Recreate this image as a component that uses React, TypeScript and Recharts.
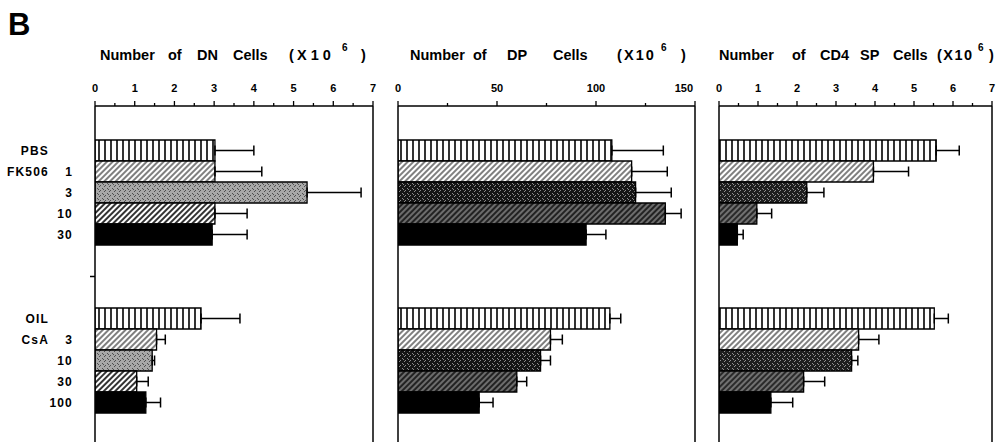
import React from 'react';
import { BarChart, Bar, XAxis, YAxis, Cell, ErrorBar, ReferenceLine } from 'recharts';

// rows, top to bottom; gap rows separate the two treatment groups
const rowIds = ['PBS', 'FK506-1', 'FK506-3', 'FK506-10', 'FK506-30', 'gap-1', 'gap-2', 'gap-3', 'OIL', 'CsA-3', 'CsA-10', 'CsA-30', 'CsA-100'];
const rowNames = ['PBS', 'FK506', '', '', '', '', '', '', 'OIL', 'CsA', '', '', ''];
const rowDoses = ['', '1', '3', '10', '30', '', '', '', '', '3', '10', '30', '100'];

// mean and top of error bar
const dnMean = [3.02, 3.02, 5.34, 3.02, 2.95, null, null, null, 2.67, 1.55, 1.44, 1.05, 1.28];
const dnUpper = [4.0, 4.2, 6.7, 3.83, 3.83, null, null, null, 3.65, 1.77, 1.5, 1.34, 1.65];
const dpMean = [108, 118, 120, 135, 95, null, null, null, 107, 77, 72, 60, 41];
const dpUpper = [134, 136, 138, 143, 105, null, null, null, 112.5, 83, 77, 65, 48];
const cd4Mean = [5.57, 3.96, 2.25, 0.97, 0.47, null, null, null, 5.52, 3.58, 3.4, 2.17, 1.33];
const cd4Upper = [6.16, 4.86, 2.69, 1.35, 0.62, null, null, null, 5.88, 4.1, 3.56, 2.71, 1.89];

const cellTicks = [0, 0.5, 1, 1.5, 2, 2.5, 3, 3.5, 4, 4.5, 5, 5.5, 6, 6.5, 7];
const cellLabels = [0, 1, 2, 3, 4, 5, 6, 7];
const dpTicks = [0, 25, 50, 75, 100, 125, 150];
const dpLabels = [0, 50, 100, 150];

// title words: [text, left, superscript?, letter spacing?]
type Word = [string, number, boolean?, number?];
const dnTitle: Word[] = [
  ['Number', 100], ['of', 168], ['DN', 197], ['Cells', 233], ['(', 289], ['X10', 297, false, 4], ['6', 342, true], [')', 361],
];
const dpTitle: Word[] = [
  ['Number', 410], ['of', 473], ['DP', 507], ['Cells', 553], ['(', 617], ['X10', 624, false, 2], ['6', 661, true], [')', 681],
];
const cd4Title: Word[] = [
  ['Number', 719], ['of', 792], ['CD4', 820], ['SP', 860], ['Cells', 893], ['(X10', 937, false, 1.5], ['6', 978, true], [')', 989],
];

const patternOrder = ['vert', 'hatch', 'stip', 'dhatch', 'solid'];
const FONT = '"Liberation Sans", Arial, Helvetica, sans-serif';

let k = 0;
const rowSlot = rowIds.map((id) => (id.startsWith('gap') ? -1 : k++ % 5));

function Patterns() {
  const sets = [
    { id: 'dn', stipBase: '#a8a8a8', stipDot: '#505050', dhBase: '#fff', dhLine: '#000', dhW: 1.6 },
    { id: 'dp', stipBase: '#151515', stipDot: '#8a8a8a', dhBase: '#222', dhLine: '#ddd', dhW: 0.8 },
    { id: 'cd4', stipBase: '#1e1e1e', stipDot: '#909090', dhBase: '#2a2a2a', dhLine: '#ddd', dhW: 0.8 },
  ];
  return (
    <svg width={0} height={0} style={{ position: 'absolute' }}>
      <defs>
        {sets.map((s) => (
          <React.Fragment key={s.id}>
            <pattern id={`${s.id}-vert`} patternUnits="userSpaceOnUse" width="6" height="6">
              <rect width="6" height="6" fill="#fff" />
              <line x1="3" y1="0" x2="3" y2="6" stroke="#000" strokeWidth="1.6" />
            </pattern>
            <pattern id={`${s.id}-hatch`} patternUnits="userSpaceOnUse" width="4" height="4" patternTransform="rotate(45)">
              <rect width="4" height="4" fill="#fff" />
              <line x1="2" y1="0" x2="2" y2="4" stroke="#000" strokeWidth="1" />
            </pattern>
            <pattern id={`${s.id}-stip`} patternUnits="userSpaceOnUse" width="5" height="5">
              <rect width="5" height="5" fill={s.stipBase} />
              <rect x="0" y="0" width="1" height="1" fill={s.stipDot} />
              <rect x="2" y="3" width="1" height="1" fill={s.stipDot} />
              <rect x="4" y="1" width="1" height="1" fill={s.stipDot} />
              <rect x="3" y="4" width="1" height="1" fill={s.stipDot} />
            </pattern>
            <pattern id={`${s.id}-dhatch`} patternUnits="userSpaceOnUse" width="4" height="4" patternTransform="rotate(45)">
              <rect width="4" height="4" fill={s.dhBase} />
              <line x1="2" y1="0" x2="2" y2="4" stroke={s.dhLine} strokeWidth={s.dhW} />
            </pattern>
          </React.Fragment>
        ))}
      </defs>
    </svg>
  );
}

function XTick(props: any) {
  const { x, y, payload, labels, max, lastEnd } = props;
  const v = payload.value;
  const major = labels.includes(v);
  const end = lastEnd && v === max;
  return (
    <g>
      <line x1={x} x2={x} y1={y} y2={y - (major ? 5 : 3)} stroke="#000" strokeWidth={1.3} />
      {major && (
        <text x={end ? x - 2 : x} y={y - 14} textAnchor={end ? 'end' : 'middle'} fontSize={11} fontWeight="bold" fontFamily={FONT} fill="#000">
          {v}
        </text>
      )}
    </g>
  );
}

function RowTick(props: any) {
  const { x, y, payload } = props;
  const i = rowIds.indexOf(payload.value);
  if (payload.value === 'gap-2') {
    return <line x1={x - 5} x2={x} y1={y} y2={y} stroke="#000" strokeWidth={1.5} />;
  }
  const style = { fontSize: 12, fontWeight: 'bold' as const, fontFamily: FONT, letterSpacing: 1.2 };
  return (
    <g>
      <text x={x - 46} y={y} dy="0.36em" textAnchor="end" fill="#000" style={style}>{rowNames[i]}</text>
      <text x={x - 22} y={y} dy="0.36em" textAnchor="end" fill="#000" style={style}>{rowDoses[i]}</text>
    </g>
  );
}

interface PanelProps {
  prefix: string;
  left: number;
  width: number;
  mLeft: number;
  mRight: number;
  yWidth: number;
  max: number;
  ticks: number[];
  labels: number[];
  mean: (number | null)[];
  upper: (number | null)[];
  showRows?: boolean;
  lastEnd?: boolean;
}

function Panel({ prefix, left, width, mLeft, mRight, yWidth, max, ticks, labels, mean, upper, showRows, lastEnd }: PanelProps) {
  const data = rowIds.map((id, i) => ({
    id,
    v: mean[i],
    err: upper[i] == null || mean[i] == null ? undefined : [0, (upper[i] as number) - (mean[i] as number)],
  }));
  return (
    <div style={{ position: 'absolute', left, top: 0 }}>
      <BarChart
        width={width}
        height={460}
        data={data}
        layout="vertical"
        barCategoryGap={0}
        margin={{ top: 76, right: mRight, left: mLeft, bottom: 7 }}
      >
        <XAxis
          type="number"
          orientation="top"
          height={30}
          domain={[0, max]}
          ticks={ticks}
          interval={0}
          allowDataOverflow
          tickLine={false}
          tickSize={0}
          tickMargin={0}
          axisLine={{ stroke: '#000', strokeWidth: 1.5 }}
          tick={(p: any) => <XTick {...p} labels={labels} max={max} lastEnd={lastEnd} />}
        />
        <YAxis
          type="category"
          dataKey="id"
          width={yWidth}
          interval={0}
          padding={{ top: 34, bottom: 40 }}
          tickLine={false}
          tickSize={0}
          tickMargin={0}
          axisLine={{ stroke: '#000', strokeWidth: 1.5 }}
          tick={showRows ? (p: any) => <RowTick {...p} /> : false}
        />
        <ReferenceLine x={max} stroke="#000" strokeWidth={1.5} ifOverflow="visible" />
        <Bar dataKey="v" isAnimationActive={false} stroke="#000" strokeWidth={1.3}>
          {data.map((d, i) => (
            <Cell
              key={d.id}
              fill={rowSlot[i] < 0 ? 'none' : patternOrder[rowSlot[i]] === 'solid' ? '#000' : `url(#${prefix}-${patternOrder[rowSlot[i]]})`}
            />
          ))}
          <ErrorBar dataKey="err" direction="x" width={5} stroke="#000" strokeWidth={1.5} isAnimationActive={false} />
        </Bar>
      </BarChart>
    </div>
  );
}

function Title({ words }: { words: Word[] }) {
  return (
    <>
      {words.map(([t, x, sup, ls]) => (
        <div
          key={t + x}
          style={{
            position: 'absolute',
            left: x,
            top: sup ? 40 : 47,
            fontFamily: FONT,
            fontSize: sup ? 10 : 14.5,
            fontWeight: 'bold',
            letterSpacing: ls || 0,
            lineHeight: '16px',
            whiteSpace: 'pre',
            color: '#000',
          }}
        >
          {t}
        </div>
      ))}
    </>
  );
}

export default function App() {
  return (
    <div style={{ position: 'absolute', left: 0, top: 0, width: 1005, height: 442, overflow: 'hidden', background: '#fff' }}>
      <Patterns />
      <div style={{ position: 'absolute', left: 8, top: 9, fontFamily: FONT, fontSize: 31, fontWeight: 'bold', lineHeight: '31px' }}>B</div>

      <Title words={dnTitle} />
      <Title words={dpTitle} />
      <Title words={cd4Title} />

      <Panel prefix="dn" left={0} width={385} mLeft={0} mRight={12} yWidth={95} max={7} ticks={cellTicks} labels={cellLabels} mean={dnMean} upper={dnUpper} showRows />
      <Panel prefix="dp" left={380} width={330} mLeft={17} mRight={15} yWidth={1} max={150} ticks={dpTicks} labels={dpLabels} mean={dpMean} upper={dpUpper} lastEnd />
      <Panel prefix="cd4" left={705} width={300} mLeft={13} mRight={13} yWidth={1} max={7} ticks={cellTicks} labels={cellLabels} mean={cd4Mean} upper={cd4Upper} />
    </div>
  );
}
